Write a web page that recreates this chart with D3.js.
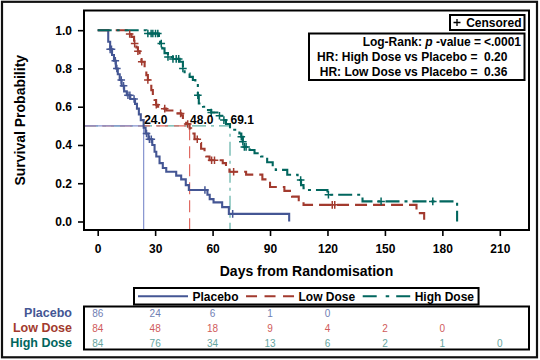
<!DOCTYPE html>
<html><head><meta charset="utf-8">
<script src="https://cdn.jsdelivr.net/npm/d3@7"></script>
<style>
body{margin:0;background:#fff;}
svg{display:block;font-family:"Liberation Sans",Arial,sans-serif;}
</style></head><body><svg id="chart" width="540" height="360"></svg>
<script>
// ---------------- data ----------------
const groups = ["Placebo", "Low Dose", "High Dose"];

const placeboTime = [0,5.5,6.5,7.5,8.5,9.5,10.5,11.5,12.5,13.8,15.2,17,19.5,20.5,21.5,22.5,24,25,26.5,28.5,29.7,30.6,32.3,34,35.8,41,43.6,46,47.6,57.3,58.5,60.5,65,68.5,100];
const placeboSurv = [1,0.94,0.90,0.87,0.84,0.80,0.77,0.74,0.71,0.68,0.66,0.64,0.615,0.59,0.56,0.53,0.49,0.46,0.43,0.40,0.365,0.34,0.305,0.28,0.26,0.24,0.22,0.19,0.165,0.14,0.117,0.10,0.075,0.04,0];
const placeboCensor = [6.5,7.2,9.2,10,12.3,13.5,15.8,16.8,19,25.5,27,28,56,70.5];

const lowTime = [0,15.8,17.6,19,20.2,21,21.9,22.8,24.5,25.4,26.2,27.1,28,28.8,29.7,30.5,31.4,33,35.8,39,43.6,44.5,46.2,48,48.8,50.6,52.3,54,55.8,56.7,58.4,65.3,67,68.8,77.5,86,90,97.5,101.5,105,107.5,166.5,170.5];
const lowSurv = [1,0.98,0.965,0.93,0.91,0.89,0.86,0.835,0.80,0.765,0.74,0.71,0.687,0.66,0.635,0.61,0.60,0.59,0.58,0.565,0.555,0.53,0.51,0.487,0.46,0.43,0.41,0.38,0.365,0.34,0.32,0.305,0.28,0.26,0.245,0.22,0.18,0.16,0.13,0.105,0.087,0.044,0];
const lowCensor = [16.7,19.3,21,23,26.2,30.6,35,43.3,47,52,59.5,61,71,122.5,123.8];

const highTime = [0,25.4,32,32.6,33.7,34.9,36.7,39.3,42.8,44.5,45.4,48,49.7,51,52.3,52.8,55,56.7,59.3,63.6,65,67,69.1,74,75,75.8,76.6,79.3,81.9,85.3,88.5,91.4,93,99,104.4,106.2,107.5,109.6,120,138.3,187.7];
const highSurv = [1,0.983,0.957,0.93,0.905,0.88,0.86,0.85,0.835,0.80,0.774,0.756,0.74,0.713,0.66,0.617,0.60,0.583,0.57,0.553,0.53,0.51,0.48,0.46,0.443,0.417,0.39,0.374,0.357,0.34,0.31,0.287,0.27,0.244,0.217,0.19,0.174,0.165,0.14,0.105,0];
const highCensor = [26.2,27.9,28.8,30.2,31.4,33.2,36.7,39.3,41,42.3,44.5,52.3,59.3,63.6,65.9,75,75.8,76.6,77.5,106,120.5,148,175];

const medians = [24.0, 48.0, 69.1];

const xTicks = [0,30,60,90,120,150,180,210];
const yTicks = [0,0.2,0.4,0.6,0.8,1.0];

const riskTimes = [0,30,60,90,120,150,180,210];
const placeboRisk = [86,24,6,1,0];
const lowRisk = [84,48,18,9,4,2,0];
const highRisk = [84,76,34,13,6,2,1,0];

const statLabels = ["HR: High Dose vs Placebo =", "HR: Low Dose vs Placebo ="];
const statValues = ["0.20", "0.36"];
const pValue = "<.0001";

// ---------------- styling ----------------
const lineColors = ["#445694", "#A23A2E", "#01665E"];
const lightColors = ["#6F7EB3", "#D05B5B", "#66A5A0"];
const refColors = ["#8593cf", "#e06a62", "#5fb0a6"];
const dashes = [null, "12,6", "14,5,3,5"];

const series = [
  {name: groups[0], t: placeboTime, s: placeboSurv, c: placeboCensor, risk: placeboRisk},
  {name: groups[1], t: lowTime, s: lowSurv, c: lowCensor, risk: lowRisk},
  {name: groups[2], t: highTime, s: highSurv, c: highCensor, risk: highRisk}
];

const svg = d3.select("#chart");
const frame = {l: 84, t: 10.5, r: 529, b: 230};

const x = d3.scaleLinear().domain([0, 210]).range([97.7, 499.8]);
const y = d3.scaleLinear().domain([0, 1]).range([221.5, 30.2]);

// outer border
svg.append("rect").attr("x", 2).attr("y", 1.8).attr("width", 535).attr("height", 355.5)
  .attr("fill", "#fff").attr("stroke", "#111").attr("stroke-width", 2.2);

// clip
svg.append("defs").append("clipPath").attr("id", "clip")
  .append("rect").attr("x", frame.l).attr("y", frame.t)
  .attr("width", frame.r - frame.l).attr("height", frame.b - frame.t);

const plot = svg.append("g").attr("clip-path", "url(#clip)");

// median reference lines (drawn green, red, blue so blue is on top)
[2, 1, 0].forEach(i => {
  const m = medians[i];
  plot.append("path")
    .attr("d", `M${frame.l},${y(0.5)}H${x(m)}V${frame.b}`)
    .attr("fill", "none").attr("stroke", refColors[i]).attr("stroke-width", 1.2)
    .attr("stroke-dasharray", dashes[i]);
});

// curves
const line = d3.line().x(d => x(d[0])).y(d => y(d[1])).curve(d3.curveStepAfter);
series.forEach((sr, i) => {
  const pts = sr.t.map((t, k) => [t, sr.s[k]]);
  plot.append("path").attr("d", line(pts))
    .attr("fill", "none").attr("stroke", lineColors[i]).attr("stroke-width", 2.1)
    .attr("stroke-dasharray", dashes[i]);
});

// censor marks
series.forEach((sr, i) => {
  sr.c.forEach(t => {
    const k = d3.bisectRight(sr.t, t) - 1;
    const cx = x(t), cy = y(sr.s[Math.max(0, k)]);
    plot.append("path").attr("d", `M${cx-3.8},${cy}H${cx+3.8}M${cx},${cy-3.8}V${cy+3.8}`)
      .attr("stroke", lineColors[i]).attr("stroke-width", 1.5).attr("fill", "none");
  });
});

// median labels
medians.forEach(m => {
  svg.append("text").attr("x", x(m) + 0.5).attr("y", y(0.5) - 2.3)
    .attr("font-size", 12).attr("font-weight", "bold").attr("fill", "#000")
    .text(d3.format(".1f")(m));
});

// frame
svg.append("rect").attr("x", frame.l).attr("y", frame.t)
  .attr("width", frame.r - frame.l).attr("height", frame.b - frame.t)
  .attr("fill", "none").attr("stroke", "#000").attr("stroke-width", 2);

// axes
const xAxis = svg.append("g").attr("transform", `translate(0,${frame.b})`)
  .call(d3.axisBottom(x).tickValues(xTicks).tickSize(6).tickPadding(8).tickFormat(d3.format("d")));
const yAxis = svg.append("g").attr("transform", `translate(${frame.l},0)`)
  .call(d3.axisLeft(y).tickValues(yTicks).tickSize(6).tickPadding(6).tickFormat(d3.format(".1f")));
[xAxis, yAxis].forEach(a => {
  a.select(".domain").remove();
  a.selectAll(".tick line").attr("stroke", "#000").attr("stroke-width", 1.6);
  a.selectAll(".tick text").attr("fill", "#000").attr("font-size", 12).attr("font-weight", "bold")
    .attr("font-family", "'Liberation Sans', Arial, sans-serif");
});

// axis titles
svg.append("text").attr("x", (frame.l + frame.r) / 2).attr("y", 276)
  .attr("text-anchor", "middle").attr("font-size", 14).attr("font-weight", "bold")
  .text("Days from Randomisation");
svg.append("text").attr("transform", `translate(24.5,${(frame.t + frame.b) / 2}) rotate(-90)`)
  .attr("text-anchor", "middle").attr("font-size", 14).attr("font-weight", "bold")
  .text("Survival Probability");

// censored legend
const cg = svg.append("g");
cg.append("rect").attr("x", 450).attr("y", 15).attr("width", 74.5).attr("height", 15)
  .attr("fill", "#fff").attr("stroke", "#000").attr("stroke-width", 2);
cg.append("path").attr("d", "M453.5,22.5H460.5M457,19V26").attr("stroke", "#000").attr("stroke-width", 1.3);
cg.append("text").attr("x", 521.5).attr("y", 26.8).attr("text-anchor", "end")
  .attr("font-size", 12).attr("font-weight", "bold").text("Censored");

// stats box
const sg = svg.append("g");
sg.append("rect").attr("x", 309).attr("y", 33.5).attr("width", 215.5).attr("height", 46.5)
  .attr("fill", "#fff").attr("stroke", "#000").attr("stroke-width", 2);
const t1 = sg.append("text").attr("x", 481).attr("y", 46.3).attr("text-anchor", "end")
  .attr("font-size", 12).attr("font-weight", "bold");
t1.append("tspan").text("Log-Rank: ");
t1.append("tspan").attr("font-style", "italic").text("p");
t1.append("tspan").text(" -value =");
sg.append("text").attr("x", 484).attr("y", 46.3).attr("font-size", 12).attr("font-weight", "bold").text(pValue);
statLabels.forEach((lab, i) => {
  sg.append("text").attr("x", 477.5).attr("y", 61.3 + i * 15).attr("text-anchor", "end")
    .attr("font-size", 12).attr("font-weight", "bold").text(lab);
  sg.append("text").attr("x", 484).attr("y", 61.3 + i * 15)
    .attr("font-size", 12).attr("font-weight", "bold").text(statValues[i]);
});

// group legend
const lg = svg.append("g");
const lgRect = lg.append("rect").attr("y", 288).attr("height", 16.5)
  .attr("fill", "#fff").attr("stroke", "#000").attr("stroke-width", 2);
let lx = 138;
const sampleW = [50, 48, 47.5];
groups.forEach((g, i) => {
  lg.append("line").attr("x1", lx).attr("x2", lx + sampleW[i]).attr("y1", 296.3).attr("y2", 296.3)
    .attr("stroke", lineColors[i]).attr("stroke-width", 2).attr("stroke-dasharray", i === 1 ? "11,7.5" : (i === 2 ? "14,9,3.5,7" : null));
  lx += sampleW[i] + 4.5;
  const tx = lg.append("text").attr("x", lx).attr("y", 300.5).attr("font-size", 12)
    .attr("font-weight", "bold").text(g);
  lx += tx.node().getComputedTextLength() + 7.5;
});
lgRect.attr("x", 134).attr("width", lx - 7.5 + 4.5 - 134);

// risk table
svg.append("rect").attr("x", frame.l).attr("y", 306.5).attr("width", frame.r - frame.l).attr("height", 43)
  .attr("fill", "#fff").attr("stroke", "#000").attr("stroke-width", 2);
series.forEach((sr, i) => {
  const by = 317.3 + i * 15;
  svg.append("text").attr("x", 72).attr("y", by).attr("text-anchor", "end")
    .attr("font-size", 12.5).attr("font-weight", "bold").attr("fill", lineColors[i]).text(sr.name);
  sr.risk.forEach((n, k) => {
    svg.append("text").attr("x", x(riskTimes[k])).attr("y", by - 0.6).attr("text-anchor", "middle")
      .attr("font-size", 10).attr("fill", lightColors[i]).text(n);
  });
});
</script></body></html>
